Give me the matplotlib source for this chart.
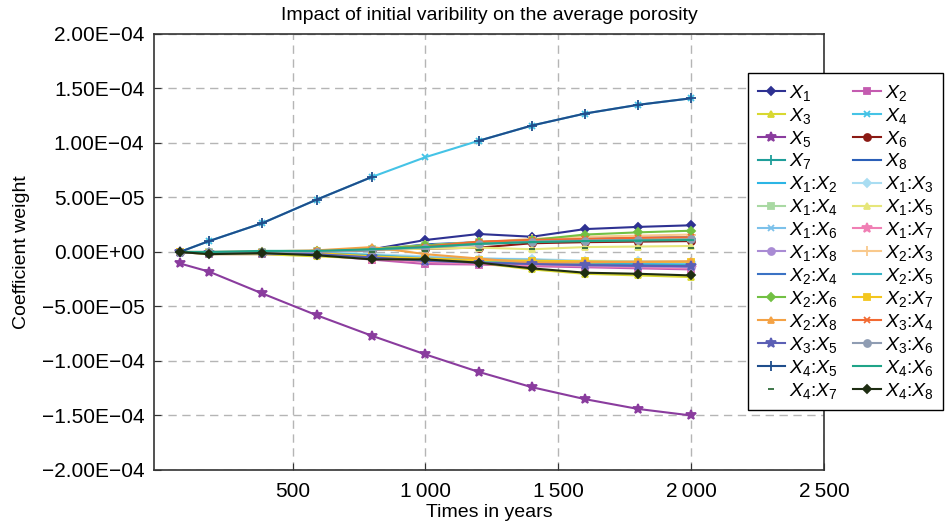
import numpy as np
import matplotlib
matplotlib.use("Agg")
import matplotlib.pyplot as plt
from matplotlib.ticker import FuncFormatter

plt.rcParams['font.family'] = ['Liberation Sans', 'DejaVu Sans']
plt.rcParams['mathtext.fontset'] = 'custom'
plt.rcParams['mathtext.rm'] = 'Liberation Sans'
plt.rcParams['mathtext.it'] = 'Liberation Sans:italic'

# time axis (years)
years = [75, 185, 385, 590, 800, 1000, 1200, 1400, 1600, 1800, 2000]

# coefficient weights, in units of 1e-5
x1    = [0, -0.1, -0.1, 0.0, 0.25, 1.1, 1.65, 1.4, 2.1, 2.3, 2.45]
x2    = [0, -0.2, -0.2, -0.3, -0.7, -1.1, -1.15, -1.3, -1.4, -1.5, -1.6]
x3    = [0, -0.2, -0.2, -0.4, -0.6, -0.75, -1.0, -1.6, -2.0, -2.15, -2.3]
x4    = [0, 1.0, 2.64, 4.8, 6.9, 8.7, 10.2, 11.6, 12.7, 13.5, 14.1]
x5    = [-1.05, -1.8, -3.8, -5.8, -7.7, -9.4, -11.0, -12.4, -13.5, -14.4, -15.0]
x6    = [0, -0.1, -0.1, -0.1, 0.2, 0.3, 0.4, 0.8, 0.9, 0.95, 1.0]
x7    = [0, -0.1, 0.0, 0.1, 0.3, 0.5, 0.8, 1.0, 1.1, 1.15, 1.2]
x8    = [0, -0.1, 0.0, 0.1, 0.15, 0.7, 0.9, 1.05, 1.2, 1.3, 1.35]
x1_x2 = [0, -0.1, -0.1, -0.2, -0.4, -0.6, -0.8, -0.9, -1.0, -1.05, -1.1]
x1_x3 = [0, 0.0, 0.0, 0.1, -0.2, -0.4, -0.6, -0.65, -0.8, -0.85, -0.9]
x1_x4 = [0, 0.0, 0.0, 0.1, 0.3, 0.6, 0.9, 1.1, 1.2, 1.25, 1.3]
x1_x5 = [0, 0.0, 0.0, 0.0, 0.2, 0.3, 0.4, 0.25, 0.45, 0.5, 0.55]
x1_x6 = [0, -0.1, 0.0, 0.0, -0.3, -0.5, -0.6, -0.7, -0.9, -0.95, -1.0]
x1_x7 = [0, -0.1, -0.1, -0.2, -0.6, -0.9, -1.1, -1.2, -1.3, -1.4, -1.5]
x1_x8 = [0, -0.1, -0.1, -0.2, -0.5, -0.8, -0.95, -1.1, -1.25, -1.3, -1.4]
x2_x3 = [0, -0.1, 0.0, 0.05, 0.3, 0.6, 0.9, 1.2, 1.4, 1.5, 1.6]
x2_x4 = [0, -0.1, -0.1, -0.2, -0.4, -0.7, -0.9, -1.0, -1.15, -1.25, -1.3]
x2_x5 = [0, 0.0, 0.0, -0.1, -0.3, -0.6, -0.8, -0.95, -1.05, -1.15, -1.2]
x2_x6 = [0, -0.1, 0.0, 0.1, 0.3, 0.6, 0.9, 1.1, 1.6, 1.8, 1.95]
x2_x7 = [0, -0.1, -0.1, -0.1, -0.4, -0.6, -0.75, -0.8, -0.85, -0.9, -0.9]
x2_x8 = [0, 0.0, 0.05, 0.15, 0.45, -0.2, -0.6, -1.0, -0.95, -0.9, -0.85]
x3_x4 = [0, -0.1, 0.0, 0.05, 0.2, 0.5, 0.95, 1.1, 1.2, 1.3, 1.35]
x3_x5 = [0, -0.1, -0.1, -0.2, -0.5, -0.8, -1.0, -1.1, -1.2, -1.25, -1.3]
x3_x6 = [0, 0.0, 0.0, 0.0, 0.2, 0.4, 0.7, 0.95, 1.05, 1.1, 1.15]
x4_x5 = [0, 1.0, 2.64, 4.8, 6.9, np.nan, 10.2, 11.6, 12.7, 13.5, 14.1]
x4_x6 = [0, 0.0, 0.1, 0.1, 0.25, 0.45, 0.75, 0.9, 1.0, 1.05, 1.1]
x4_x7 = [0, 0.0, 0.0, 0.0, 0.0, 0.1, 0.2, 0.3, 0.35, 0.4, 0.4]
x4_x8 = [0, -0.2, -0.1, -0.3, -0.68, -0.68, -0.98, -1.5, -1.9, -2.0, -2.15]

series = [
    ('$X_{1}$', x1, '#2e3192'), ('$X_{2}$', x2, '#c45bb0'),
    ('$X_{3}$', x3, '#d8d830'), ('$X_{4}$', x4, '#45c3e6'),
    ('$X_{5}$', x5, '#8a3c9e'), ('$X_{6}$', x6, '#8b1a14'),
    ('$X_{7}$', x7, '#1f9e9a'), ('$X_{8}$', x8, '#2b5fb8'),
    ('$X_{1}$:$X_{2}$', x1_x2, '#2bb5e5'), ('$X_{1}$:$X_{3}$', x1_x3, '#a9ddf2'),
    ('$X_{1}$:$X_{4}$', x1_x4, '#a9d9a3'), ('$X_{1}$:$X_{5}$', x1_x5, '#e6e67a'),
    ('$X_{1}$:$X_{6}$', x1_x6, '#7cc1ea'), ('$X_{1}$:$X_{7}$', x1_x7, '#f07fb4'),
    ('$X_{1}$:$X_{8}$', x1_x8, '#a98bd4'), ('$X_{2}$:$X_{3}$', x2_x3, '#f9c98c'),
    ('$X_{2}$:$X_{4}$', x2_x4, '#3a72c4'), ('$X_{2}$:$X_{5}$', x2_x5, '#38b4c6'),
    ('$X_{2}$:$X_{6}$', x2_x6, '#72c043'), ('$X_{2}$:$X_{7}$', x2_x7, '#f3c61e'),
    ('$X_{2}$:$X_{8}$', x2_x8, '#f4a245'), ('$X_{3}$:$X_{4}$', x3_x4, '#f26a32'),
    ('$X_{3}$:$X_{5}$', x3_x5, '#5b5fb5'), ('$X_{3}$:$X_{6}$', x3_x6, '#8f9db3'),
    ('$X_{4}$:$X_{5}$', x4_x5, '#1f4e8c'), ('$X_{4}$:$X_{6}$', x4_x6, '#1fa488'),
    ('$X_{4}$:$X_{7}$', x4_x7, '#2f6b3a'), ('$X_{4}$:$X_{8}$', x4_x8, '#1e2d12'),
]
markers = ['D', 's', '^', 'x', '*', 'o', '+', '_', '_']
msizes  = {'D': 4, 's': 4, '^': 5, 'x': 5, '*': 7, 'o': 5, '+': 7, '_': 5}

fig = plt.figure(figsize=(9.47, 5.27), dpi=100)
ax = fig.add_axes([0.1626, 0.1082, 0.7075, 0.8273])

for i, (lab, vals, col) in enumerate(series):
    m = markers[i % len(markers)]
    ls = 'none' if lab == '$X_{4}$:$X_{7}$' else '-'
    ax.plot(years, np.array(vals) * 1e-5, color=col, lw=1.5, ls=ls,
            marker=m, ms=msizes[m], mew=1.3, label=lab)

ax.set_xlim(-22, 2500)
ax.set_ylim(-2e-4, 2e-4)
ax.set_xticks([500, 1000, 1500, 2000, 2500])
ax.set_yticks(np.arange(-2e-4, 2.01e-4, 5e-5))
ax.xaxis.set_major_formatter(FuncFormatter(lambda v, p: f"{int(v):,}".replace(',', '\u2009')))
ax.yaxis.set_major_formatter(FuncFormatter(
    lambda v, p: f"{0.0 if abs(v) < 1e-12 else v:.2E}".replace('-', '\u2212')))
ax.tick_params(direction='in', length=5, labelsize=15, color='#333333')
ax.tick_params(axis='x', pad=9)
ax.tick_params(axis='y', pad=7)
ax.grid(True, ls=(0, (6, 4)), color='#b5b5b5', lw=1)
for s in ax.spines.values():
    s.set_color('#333333')
    s.set_linewidth(1.2)

ax.set_title('Impact of initial varibility on the average porosity', fontsize=14, pad=10)
ax.set_xlabel('Times in years', fontsize=14, labelpad=2)
ax.set_ylabel('Coefficient weight', fontsize=14, labelpad=8)

h, l = ax.get_legend_handles_labels()
order = list(range(0, len(h), 2)) + list(range(1, len(h), 2))
leg = fig.legend([h[k] for k in order], [l[k] for k in order], ncol=2,
                 loc='upper left', bbox_to_anchor=(748 / 947, 1 - 73 / 527),
                 fontsize=14, frameon=True, fancybox=False, framealpha=1,
                 edgecolor='black', handlelength=1.4, handletextpad=0.2,
                 columnspacing=0.8, labelspacing=0.15, borderpad=0.5,
                 borderaxespad=0)
leg.get_frame().set_linewidth(1.0)

fig.savefig('out.png', dpi=100)
